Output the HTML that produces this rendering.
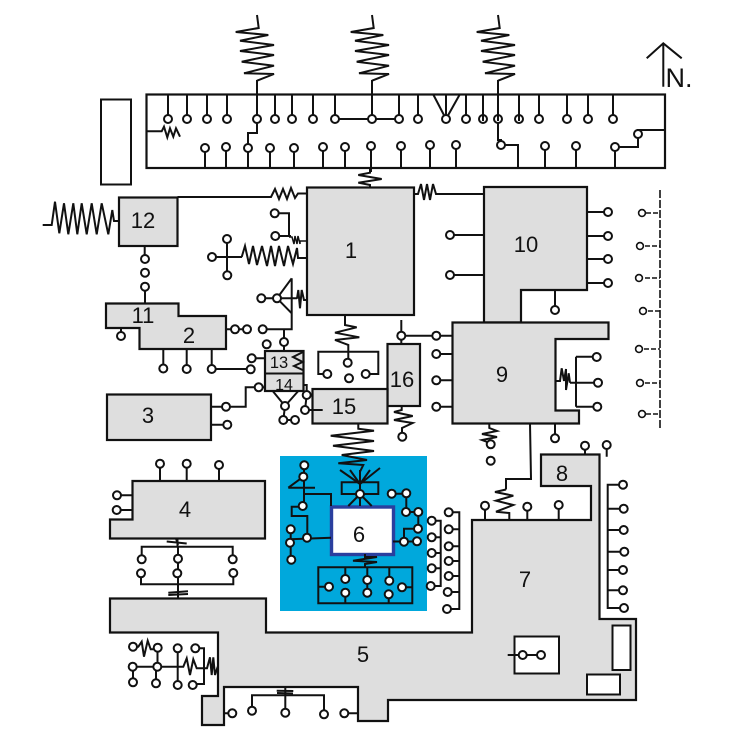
<!DOCTYPE html>
<html><head><meta charset="utf-8"><style>
html,body{margin:0;padding:0;background:#fff}
svg{display:block}
.l{fill:none;stroke:#111;stroke-width:2;stroke-linejoin:miter}
.z{fill:none;stroke:#111;stroke-width:2}
.b{fill:#dedede;stroke:#111;stroke-width:2.2}
.w{fill:#fff;stroke:#111;stroke-width:2}
.c circle{fill:#fff;stroke:#111;stroke-width:2;r:4px}
.d circle{fill:#fff;stroke:#111;stroke-width:1.6;r:3.4px}
text{font-family:"Liberation Sans",sans-serif;fill:#111;text-anchor:middle;font-size:22px}
</style></head><body>
<svg width="739" height="739" viewBox="0 0 739 739" xmlns="http://www.w3.org/2000/svg">
<rect width="739" height="739" fill="#fff"/>
<rect x="280" y="456" width="147" height="155" fill="#00a8dc"/>
<path class="b" d="M110 598.500H266V632.500H472V520H591V486H541V454.500H599.500V619H636V700H388V721H358V687H224V725H202V696H218V632.500H110Z"/>
<path class="b" d="M484 187H587V290H521V322.500H484Z"/>
<rect class="b" x="307" y="187.500" width="107" height="127.500"/>
<rect class="b" x="119" y="197.500" width="58.500" height="48.500"/>
<path class="b" d="M106 303.500H178.500V316H226V349H139.500V328H106Z"/>
<rect class="b" x="107" y="394.500" width="104" height="45.500"/>
<path class="b" d="M132.500 481H265V538.500H110V519.500H132.500Z"/>
<path class="b" d="M452.500 322.500H608.500V339H555.500V410.500H579V423.500H452.500Z"/>
<rect class="b" x="387.500" y="344" width="32.500" height="62"/>
<rect class="b" x="312.500" y="389" width="75" height="34.500"/>
<rect class="b" x="265" y="351" width="38.500" height="40"/>
<path class="l" d="M265 373.500H303.500"/>
<rect x="146.500" y="94.500" width="518.500" height="73.500" fill="none" stroke="#111" stroke-width="2.200"/>
<rect x="101" y="99.500" width="30" height="85" fill="#fff" stroke="#111" stroke-width="2"/>
<rect class="w" x="514.500" y="636.500" width="44.500" height="37"/>
<rect class="w" x="612.500" y="625.500" width="18" height="44.500"/>
<rect class="w" x="587" y="674.500" width="33" height="20"/>
<rect x="331.500" y="507" width="62" height="47.500" fill="#fff" stroke="#2a3f9e" stroke-width="3.400"/>
<path class="l" d="M168 94V119M187 94V119M207 94V119M227 94V119M257 80V133H248V148M275 94V119M292 94V119M313 94V119M335 94V119M372 80V119M399 94V119M418 94V119M446 94V119M433 94L446 119L460 94M466 94V119M483 94V119M498 80V140H501V145H518V168M519 94V119M539 94V119M567 94V119M588 94V119M613 94V119M335 119H399M205 148V168M226 147V168M248 148V168M270 148V168M294 148V168M323 147V168M345 147V168M371 146V172M401 146V168M430 145V168M456 145V168M545 146V168M576 146V168M665 130H638V147H615V168"/>
<path class="z" d="M146.500 131.300H161.700L164 126.700L167.300 137.300L170 128.300L173.300 136.700L176 128.300L180 136.700"/>
<path class="z" d="M257 15L258.700 28L235.700 32L268.300 35L240 40.700L274 45L240 51L274 55L241.700 61.700L274 65.700L244 73.300L274 74L257 80.700"/>
<path class="z" d="M372 15L373.700 28L350.700 32L383.300 35L355 40.700L389 45L355 51L389 55L356.700 61.700L389 65.700L359 73.300L389 74L372 80.700"/>
<path class="z" d="M498 15L499.700 28L476.700 32L509.300 35L481 40.700L515 45L481 51L515 55L482.700 61.700L515 65.700L485 73.300L515 74L498 80.700"/>
<path class="z" d="M370 168V172.700L358.300 175L381.700 179L358.300 182.700L370 185V187.500"/>
<path class="z" d="M177.500 197H271L275 189L279 199L283 189L287 199L291 188L295 198L298 193.500H307"/>
<path class="z" d="M414 194H418L421 184L424 200L427 184L430 200L433 184L436 194H484"/>
<path class="z" d="M42.700 225H51.700L55 201.700L59.300 233.300L64 203.300L68.300 234.300L73.300 203.300L77.300 234.300L81.700 203.300L86.700 234.300L91.700 203.300L96.700 234.300L101.700 203.300L108.300 234.300L112.300 210L114 221H119"/>
<path class="l" d="M144.700 246V259M145 287V303.500M121 328V336"/>
<path class="l" d="M275 213.300H289V237M275 236H291M227 239V275M212 257H242"/>
<path class="z" style="stroke-width:1.500" d="M289 237H292L294 244L295 236L297 244L298 236L300 244V241H307"/>
<path class="z" d="M241.700 257L245 246L249 264L253 246L257 265L262 246L267 266L271 246L275 266L279 246L284 266L288 246L293 264L297 248L298 258H307"/>
<path class="l" d="M291.700 278.300L277 298.300L291.700 313.300M291.700 278.300V329.300H262.700M261 298.300H297M284 329.300V351M226 329.300H235M235 329.300H247"/>
<path class="z" d="M297 298.700L298.300 290L300 308.300L301.700 290L304 300H307"/>
<path class="l" d="M163.300 349V368M186.700 349V369M211.700 349V369H250.700M251.700 358.300H265"/>
<path class="z" d="M303 352L293 357L302.700 362L294 366L302.700 370"/>
<path class="l" d="M258.700 387.300H265M258.700 387.300H245.700V406.700H211M211 424.700H227.300M272.700 391L285 406L298.300 391M285 406L283.300 420M295 420H283.300M303 385H306.700V395L305 410H322.700"/>
<path class="z" d="M345 315V325L356.700 327.300L335 332.700L359.300 337.300L335 340L348.300 345V363"/>
<path class="l" d="M327.300 374H318.300V351.700H378.300V374H365.700"/>
<path class="l" d="M401.300 320V344M401.300 335.700H452.500M436.300 354H452.500M436.300 380.300H452.500M436.300 406.700H452.500"/>
<path class="z" d="M401.700 406V410L394 412L412.700 416L394 420L412.700 423L402 428V436"/>
<path class="z" d="M358.300 423.500V428.700L374 430.700L330.700 435.700L374 441L333 445.700L374 451L341.700 455L367 460L338.300 463.300L363.300 465L360 471.700V482"/>
<path class="z" d="M340 470L360 484L350 470M360 484L360 470M360 484L370 470M360 484L380 468"/>
<path class="l" d="M360 482.300H341.700V494H378.300V482.300H360M360 482V506M348.300 506L360 494L371.700 506"/>
<path class="l" d="M304 465V506M288.300 487.700H315M303.300 476.700L288.300 487.700M303 494H331V506M302.700 506.700H291.700V516H307.300V537.700M290 539.300L331 537.700M290.700 529.300V559.700"/>
<path class="l" d="M391.700 493.700H406.300V512M406 512H418.300V528.700H404V541.700M393 541.500H417"/>
<path class="z" d="M365 554V557H377L353 560.700L377 562L365 564V567.300"/>
<path class="l" d="M318.300 567.300H412.300V603.300H318.300ZM318.300 586.700H329M402 587.300H412.300M345.300 567.300V579M345.300 592.700V603.300M367.300 567.300V592.700M389.300 567.300V580.700M388.700 594.300V603.300"/>
<path class="l" d="M431.700 520.700H440.700V586H430.700M431.700 537.300H440.700M431.700 553H440.700M431.700 568.300H440.700"/>
<path class="l" d="M448.700 512.300H459.300V609H447M448.700 529.300H459.300M448.700 546.300H459.300M448.700 561H459.300M448.700 576H459.300M447.700 592H459.300"/>
<path class="l" d="M160 463.700V481M186.700 463.700V481M219 465V481M117 495.300H132.500M116.700 510H132.500"/>
<path class="l" d="M177.500 538.500V546.700M141.700 559.300V546.700H232.700V559.300M178 546.700V598.500M141 573.300V584.300H233.300V573"/>
<path class="z" d="M166.700 541.500L186.700 543.500M176 538.500L178 545"/>
<path class="z" d="M168.300 592.700L188 591.300M168.300 595L188 594"/>
<path class="z" d="M133 646.700H138.300L141.700 641.700L144 656.700L147.700 640.700L150.700 649.300H157.700"/>
<path class="l" d="M132.700 666.700H178.300M133 666.700V682M157.500 647.700V666.700M156 666.700V683M177.700 648.300V685M195.300 648.300H204V684H192.700"/>
<path class="z" d="M178.300 666.700H183.300L186.700 658.300L190 675L193.300 659.300L196.700 668.300H204H207L210 657.300L211.700 675L213.300 657.300L215 675L217.700 666.700"/>
<path class="l" d="M224 713.300H232.300M252 710.700V695.300H324V714.300M285.300 687V712.700M344.300 713.300H358"/>
<path class="z" d="M276.700 690.700L293.300 691M277 693L293 693.500"/>
<path class="l" d="M507.700 655H541"/>
<path class="l" d="M485 505.700V520M527.300 506.700V520M558.700 505V520M530 423.500L531 479H506V489.500"/>
<path class="z" d="M506 489.500L495 492L513.300 495.700L496 500.700L513.300 505L496 511.700L509.300 513V520"/>
<path class="l" d="M585 445.700V454.500M606.700 445V456.700M623 484.700H607.700V608H624M607.700 508.700H623.700M607.700 530H623.700M607.700 551.700H624.300M607.700 570H623M607.700 590.300H623"/>
<path class="l" d="M555 423.500V438.300"/>
<path class="z" d="M489.300 423.500V428L497 431L482 434L497 437L482 440L490 443"/>
<path class="l" d="M576 356.700V406.700M576 356.700H596.700M576 406.700H597.300M570 382.700H598"/>
<path class="z" d="M555.500 381H560L561.700 368.300L564 381L566 369V390L568.700 373.300L570 382.700"/>
<path class="l" d="M587 212H608M587 236H608M587 259H608M587 283H608M450 235H484M450 275H484M555 290V310"/>
<path d="M660 190V430" fill="none" stroke="#111" stroke-width="1.600" stroke-dasharray="8 2"/>
<path d="M646 213H660M645 246H660M645 278H660M648 311H660M644 349H660M645 383H660M646 414H660" fill="none" stroke="#111" stroke-width="1.600" stroke-dasharray="5 2"/>
<path class="l" d="M663.300 86.700V43.300M646.700 58.300L663.300 43.300L681.700 58.300"/>
<g class="c">
<circle cx="168" cy="119"/><circle cx="187" cy="119"/><circle cx="207" cy="119"/><circle cx="227" cy="119"/><circle cx="257" cy="119"/><circle cx="275" cy="119"/><circle cx="292" cy="119"/><circle cx="313" cy="119"/><circle cx="335" cy="119"/><circle cx="372" cy="119"/><circle cx="399" cy="119"/><circle cx="418" cy="119"/><circle cx="446" cy="119"/><circle cx="466" cy="119"/><circle cx="483" cy="119"/><circle cx="498" cy="119"/><circle cx="519" cy="119"/><circle cx="539" cy="119"/><circle cx="567" cy="119"/><circle cx="588" cy="119"/><circle cx="613" cy="119"/>
<circle cx="205" cy="148"/><circle cx="226" cy="147"/><circle cx="248" cy="148"/><circle cx="270" cy="148"/><circle cx="294" cy="148"/><circle cx="323" cy="147"/><circle cx="345" cy="147"/><circle cx="371" cy="146"/><circle cx="401" cy="146"/><circle cx="430" cy="145"/><circle cx="456" cy="145"/><circle cx="501" cy="145"/><circle cx="545" cy="146"/><circle cx="576" cy="146"/><circle cx="615" cy="147"/><circle cx="638" cy="134"/>
<circle cx="145" cy="259"/><circle cx="145" cy="272.700"/><circle cx="145" cy="286.700"/><circle cx="121" cy="336"/>
<circle cx="274.700" cy="213.300"/><circle cx="275.300" cy="236"/><circle cx="212" cy="257"/><circle cx="227" cy="239"/><circle cx="227.300" cy="275.300"/>
<circle cx="261.300" cy="298.300"/><circle cx="277" cy="298.300"/><circle cx="235" cy="329.300"/><circle cx="247" cy="329.300"/><circle cx="262.700" cy="329.300"/><circle cx="284" cy="342"/><circle cx="266.700" cy="344.300"/>
<circle cx="163.300" cy="368.500"/><circle cx="186.700" cy="369"/><circle cx="211.700" cy="369"/><circle cx="251.700" cy="358.300"/><circle cx="250.700" cy="369.300"/><circle cx="258.700" cy="387.300"/><circle cx="226" cy="406.700"/><circle cx="227.300" cy="424.700"/>
<circle cx="285" cy="406"/><circle cx="283.300" cy="420"/><circle cx="295" cy="420"/><circle cx="306.700" cy="395"/><circle cx="305" cy="410"/>
<circle cx="347.700" cy="362.700"/><circle cx="327.300" cy="374"/><circle cx="365.700" cy="374"/><circle cx="349" cy="378.300"/>
<circle cx="401.300" cy="335.700"/><circle cx="436.300" cy="335.700"/><circle cx="436.300" cy="354"/><circle cx="436.300" cy="380.300"/><circle cx="436.300" cy="406.700"/><circle cx="402.300" cy="436.700"/>
<circle cx="360" cy="494"/><circle cx="304.300" cy="465.300"/><circle cx="303.300" cy="476.700"/><circle cx="302.700" cy="506"/><circle cx="307" cy="537.700"/><circle cx="290.700" cy="529.300"/><circle cx="290" cy="542.700"/><circle cx="291.300" cy="559.700"/>
<circle cx="391.700" cy="493.700"/><circle cx="406.300" cy="493.300"/><circle cx="406" cy="512"/><circle cx="418.300" cy="512"/><circle cx="418" cy="528.700"/><circle cx="404" cy="541.700"/><circle cx="417" cy="541.300"/>
<circle cx="329" cy="586.700"/><circle cx="345.300" cy="579"/><circle cx="345.300" cy="592.700"/><circle cx="367.300" cy="580"/><circle cx="367.300" cy="592.700"/><circle cx="389.300" cy="580.700"/><circle cx="388.700" cy="594.300"/><circle cx="402" cy="587.300"/>
<circle cx="431.700" cy="520.700"/><circle cx="431.700" cy="537.300"/><circle cx="431.700" cy="553"/><circle cx="431.700" cy="568.300"/><circle cx="430.700" cy="586"/>
<circle cx="448.700" cy="512.300"/><circle cx="448.700" cy="529.300"/><circle cx="448.700" cy="546.300"/><circle cx="448.700" cy="561"/><circle cx="448.700" cy="576"/><circle cx="447.700" cy="592"/><circle cx="447" cy="609"/>
<circle cx="160" cy="463.700"/><circle cx="186.700" cy="463.700"/><circle cx="219" cy="465"/><circle cx="117" cy="495.300"/><circle cx="116.700" cy="510"/>
<circle cx="141.700" cy="559.300"/><circle cx="178" cy="558.700"/><circle cx="232.700" cy="559.300"/><circle cx="141" cy="573.300"/><circle cx="177.300" cy="573.300"/><circle cx="233.300" cy="573"/>
<circle cx="133" cy="646.700"/><circle cx="157.700" cy="647.700"/><circle cx="177.700" cy="648.300"/><circle cx="195.300" cy="648.300"/><circle cx="132.700" cy="666.700"/><circle cx="157.300" cy="666.700"/><circle cx="133" cy="682.300"/><circle cx="156" cy="683.300"/><circle cx="177.700" cy="685"/><circle cx="192.700" cy="685"/>
<circle cx="232.300" cy="713.300"/><circle cx="252" cy="710.700"/><circle cx="285.300" cy="712.700"/><circle cx="324" cy="714.300"/><circle cx="344.300" cy="713.300"/>
<circle cx="522.700" cy="655"/><circle cx="541" cy="655"/>
<circle cx="485" cy="505.700"/><circle cx="527.300" cy="506.700"/><circle cx="558.700" cy="505"/><circle cx="585" cy="445.700"/><circle cx="606.700" cy="445"/>
<circle cx="623" cy="484.700"/><circle cx="623.700" cy="508.700"/><circle cx="623.700" cy="530"/><circle cx="624.300" cy="551.700"/><circle cx="623" cy="570"/><circle cx="623" cy="590.300"/><circle cx="624" cy="608"/>
<circle cx="555" cy="438.300"/><circle cx="490.700" cy="444.300"/><circle cx="490.700" cy="460.700"/><circle cx="596.700" cy="357"/><circle cx="598" cy="382.700"/><circle cx="597.300" cy="406.700"/>
<circle cx="608" cy="212"/><circle cx="608" cy="236"/><circle cx="608" cy="259"/><circle cx="608" cy="283"/><circle cx="450" cy="235"/><circle cx="450" cy="275"/><circle cx="555" cy="310"/>
</g>
<g class="d">
<circle cx="642" cy="213"/><circle cx="640" cy="246"/><circle cx="639" cy="278"/><circle cx="643" cy="311"/><circle cx="639" cy="349"/><circle cx="640" cy="383"/><circle cx="642" cy="414"/>
</g>
<path class="l" d="M483 114V121M498 114V121M519 114V121"/>
<text x="351" y="258">1</text>
<text x="143" y="228">12</text>
<text x="143" y="323">11</text>
<text x="189" y="343">2</text>
<text x="279" y="368" style="font-size:16.500px">13</text>
<text x="284" y="390" style="font-size:16px">14</text>
<text x="344" y="414">15</text>
<text x="402" y="387">16</text>
<text x="148" y="423">3</text>
<text x="185" y="517">4</text>
<text x="363" y="662">5</text>
<text x="359" y="542">6</text>
<text x="525" y="587">7</text>
<text x="562" y="481">8</text>
<text x="502" y="382">9</text>
<text x="526" y="252">10</text>
<text x="679" y="87" style="font-size:27px">N.</text>
</svg>
</body></html>
